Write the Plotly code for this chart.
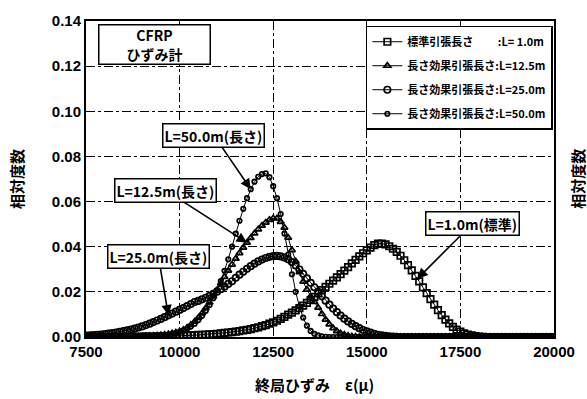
import plotly.graph_objects as go

# Strain grid (micro-strain)
strain = list(range(7500, 20001, 100))

# Relative frequency, standard gauge length L = 1.0 m
freq_L1 = [
    0, 0, 0, 0, 0, 0, 0, 0, 0, 0,
    .0001, .0001, .0001, .0001, .0001, .0002, .0002, .0002, .0002, .0003,
    .0003, .0003, .0004, .0004, .0005, .0005, .0006, .0007, .0007, .0008,
    .0009, .0010, .0011, .0012, .0013, .0014, .0016, .0018, .0020, .0022,
    .0024, .0026, .0029, .0032, .0035, .0039, .0043, .0048, .0053, .0059,
    .0065, .0072, .0080, .0089, .0099, .0108, .0118, .0128, .0139, .0151,
    .0164, .0178, .0193, .0208, .0222, .0236, .0250, .0264, .0279, .0294,
    .0310, .0326, .0342, .0357, .0371, .0384, .0396, .0407, .0414, .0414,
    .0410, .0402, .0391, .0377, .0360, .0340, .0318, .0295, .0271, .0246,
    .0220, .0194, .0168, .0143, .0119, .0097, .0077, .0060, .0045, .0033,
    .0024, .0016, .0011, .0007, .0004, .0002, .0001, 0, 0, 0,
    0, 0, 0, 0, 0, 0, 0, 0, 0, 0,
    0, 0, 0, 0, 0, 0,
]

# Relative frequency, length-effect gauge length L = 12.5 m
freq_L12 = [
    0, 0, 0, 0, 0, 0, 0, 0, 0, 0,
    .0001, .0001, .0001, .0002, .0002, .0003, .0004, .0005, .0006, .0007,
    .0008, .0010, .0013, .0016, .0020, .0025, .0032, .0041, .0054, .0068,
    .0085, .0105, .0128, .0153, .0180, .0208, .0237, .0266, .0294, .0321,
    .0347, .0372, .0396, .0418, .0439, .0459, .0477, .0493, .0507, .0519,
    .0526, .0525, .0510, .0485, .0440, .0385, .0335, .0287, .0245, .0210,
    .0180, .0155, .0130, .0102, .0077, .0056, .0039, .0026, .0016, .0010,
    .0006, .0003, .0002, .0001, 0, 0, 0, 0, 0, 0,
    0, 0, 0, 0, 0, 0, 0, 0, 0, 0,
    0, 0, 0, 0, 0, 0, 0, 0, 0, 0,
    0, 0, 0, 0, 0, 0, 0, 0, 0, 0,
    0, 0, 0, 0, 0, 0, 0, 0, 0, 0,
    0, 0, 0, 0, 0, 0,
]

# Relative frequency, length-effect gauge length L = 25.0 m
freq_L25 = [
    .0006, .0007, .0008, .0010, .0011, .0013, .0015, .0017, .0020, .0023,
    .0026, .0029, .0033, .0037, .0042, .0047, .0053, .0059, .0066, .0073,
    .0080, .0088, .0096, .0104, .0112, .0120, .0128, .0137, .0146, .0155,
    .0160, .0167, .0174, .0182, .0191, .0201, .0212, .0223, .0235, .0247,
    .0262, .0276, .0289, .0302, .0314, .0325, .0335, .0343, .0350, .0355,
    .0358, .0359, .0357, .0352, .0344, .0332, .0317, .0299, .0280, .0260,
    .0240, .0220, .0200, .0180, .0161, .0143, .0126, .0110, .0095, .0081,
    .0069, .0058, .0048, .0039, .0031, .0025, .0019, .0014, .0010, .0007,
    .0005, .0003, .0002, .0001, 0, 0, 0, 0, 0, 0,
    0, 0, 0, 0, 0, 0, 0, 0, 0, 0,
    0, 0, 0, 0, 0, 0, 0, 0, 0, 0,
    0, 0, 0, 0, 0, 0, 0, 0, 0, 0,
    0, 0, 0, 0, 0, 0,
]

# Relative frequency, length-effect gauge length L = 50.0 m
freq_L50 = [
    0, 0, 0, 0, 0, 0, 0, 0, 0, 0,
    0, 0, 0, 0, 0, .0001, .0001, .0002, .0003, .0004,
    .0006, .0008, .0010, .0013, .0017, .0022, .0028, .0036, .0046, .0059,
    .0075, .0094, .0116, .0142, .0172, .0207, .0248, .0293, .0344, .0400,
    .0458, .0515, .0568, .0615, .0655, .0688, .0710, .0722, .0725, .0708,
    .0668, .0615, .0545, .0458, .0365, .0278, .0200, .0136, .0086, .0050,
    .0027, .0014, .0007, .0003, .0001, 0, 0, 0, 0, 0,
    0, 0, 0, 0, 0, 0, 0, 0, 0, 0,
    0, 0, 0, 0, 0, 0, 0, 0, 0, 0,
    0, 0, 0, 0, 0, 0, 0, 0, 0, 0,
    0, 0, 0, 0, 0, 0, 0, 0, 0, 0,
    0, 0, 0, 0, 0, 0, 0, 0, 0, 0,
    0, 0, 0, 0, 0, 0,
]

series_names = [
    "標準引張長さ　　 :L= 1.0m",
    "長さ効果引張長さ:L=12.5m",
    "長さ効果引張長さ:L=25.0m",
    "長さ効果引張長さ:L=50.0m",
]
series_values = [freq_L1, freq_L12, freq_L25, freq_L50]
series_symbols = ["square-open", "triangle-up-open", "circle-open", "circle-open"]
series_sizes = [6.5, 6, 6.5, 4.5]

x_ticks = [7500, 10000, 12500, 15000, 17500, 20000]

JP = "Noto Sans CJK JP"
LAT = "Liberation Sans"

fig = go.Figure()
for name, vals, sym, size in zip(series_names, series_values, series_symbols, series_sizes):
    fig.add_trace(go.Scatter(
        x=strain, y=vals, mode="lines+markers", name=name, legendgroup=name,
        line=dict(color="black", width=1),
        marker=dict(symbol=sym, size=size, color="black",
                    line=dict(width=1.7, color="black")),
    ))

axis_common = dict(
    showgrid=True, gridcolor="black", gridwidth=1, griddash="dashdot",
    showline=True, linecolor="black", linewidth=2, mirror=True,
    ticks="", zeroline=False,
    tickfont=dict(family=LAT, size=15, color="black", weight="bold"),
)

fig.update_layout(
    width=587, height=399,
    margin=dict(l=86, r=27, t=15, b=62),
    plot_bgcolor="white", paper_bgcolor="white",
    xaxis=dict(range=[7500, 20000], tickvals=x_ticks, tickformat="d", **axis_common),
    yaxis=dict(range=[0, 0.14], dtick=0.02, tickformat=".2f", **axis_common),
    legend=dict(
        x=0.598, y=0.985, xanchor="left", yanchor="top",
        bordercolor="black", borderwidth=1.5, bgcolor="white",
        font=dict(family=JP, size=11, color="black", weight="bold"),
        tracegroupgap=5, itemwidth=30,
    ),
    showlegend=True,
)

label_font = dict(family=JP, size=14, color="black", weight="bold")

def curve_label(text, x, y, ax, ay):
    fig.add_annotation(
        x=x, y=y, xref="x", yref="y", ax=ax, ay=ay, text=text,
        showarrow=True, arrowhead=2, arrowsize=1.3, arrowwidth=1.6,
        arrowcolor="black", bordercolor="black", borderwidth=1.5,
        borderpad=1, bgcolor="white", font=label_font,
    )

curve_label("L=50.0m(長さ)", 11900, 0.0655, -37, -54)
curve_label("L=12.5m(長さ)", 11800, 0.0418, -81, -52)
curve_label("L=25.0m(長さ)", 9700, 0.0096, -10, -59)
curve_label("L=1.0m(標準)", 16350, 0.0258, 55, -55)

fig.add_annotation(
    x=0.1456, y=0.925, xref="paper", yref="paper", showarrow=False,
    xanchor="center", yanchor="middle",
    text="CFRP<br>ひずみ計", width=108, height=36,
    bordercolor="black", borderwidth=1.5, bgcolor="white",
    font=dict(family=JP, size=14, color="black", weight="bold"),
)

title_font = dict(family=JP, size=15, color="black", weight="bold")
fig.add_annotation(x=-0.1498, y=0.5, xref="paper", yref="paper", showarrow=False,
                   xanchor="center", yanchor="middle",
                   text="相対度数", textangle=-90, font=title_font)
fig.add_annotation(x=1.0485, y=0.5, xref="paper", yref="paper", showarrow=False,
                   xanchor="center", yanchor="middle",
                   text="相対度数", textangle=-90, font=title_font)
fig.add_annotation(x=0.489, y=-0.149, xref="paper", yref="paper", showarrow=False,
                   xanchor="center", yanchor="middle",
                   text="終局ひずみ　ε(μ)", font=title_font)

fig.write_html("out.html")
